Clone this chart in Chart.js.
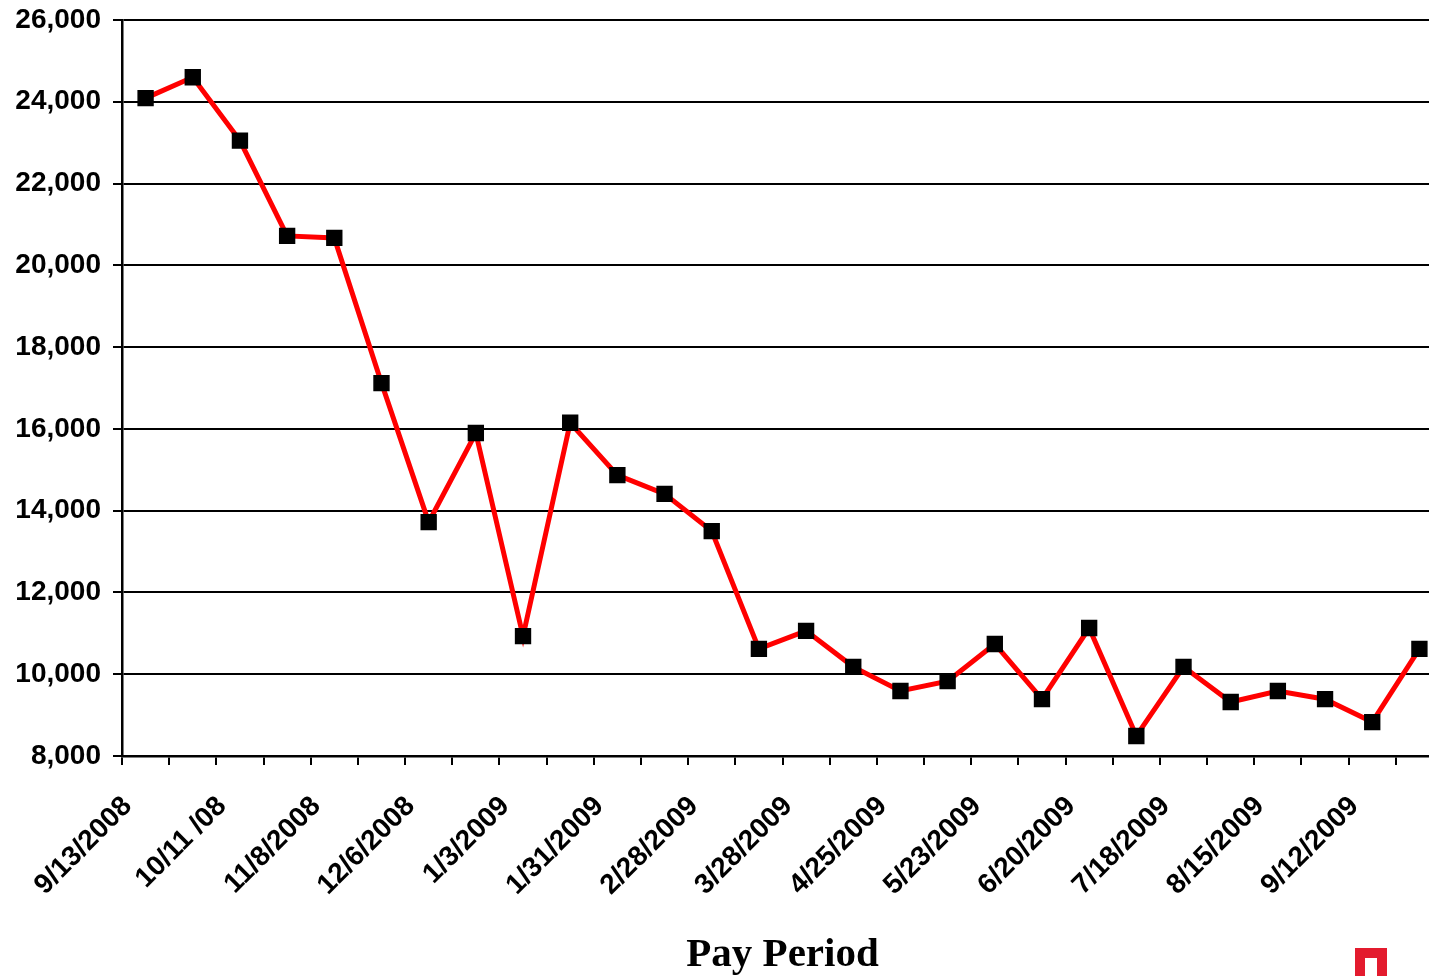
<!DOCTYPE html>
<html>
<head>
<meta charset="utf-8">
<script src="https://cdn.jsdelivr.net/npm/chart.js@4.4.1/dist/chart.umd.min.js"></script>
<style>
  html, body { margin: 0; padding: 0; background: #fff; overflow: hidden; }
  #payChart { position: absolute; left: 0; top: 0; }
</style>
</head>
<body>
<canvas id="payChart" width="1455" height="992"></canvas>
<script>
// pay periods, every 2 weeks
const periods = ['9/13/2008','9/27/2008','10/11 /08','10/25/2008','11/8/2008','11/22/2008','12/6/2008','12/20/2008',
  '1/3/2009','1/17/2009','1/31/2009','2/14/2009','2/28/2009','3/14/2009','3/28/2009','4/11/2009','4/25/2009',
  '5/9/2009','5/23/2009','6/6/2009','6/20/2009','7/4/2009','7/18/2009','8/1/2009','8/15/2009','8/29/2009',
  '9/12/2009','9/26/2009'];
const counts = [24090, 24600, 23050, 20720, 20670, 17120, 13720, 15900, 10930, 16150, 14870, 14410, 13500, 10620,
  11060, 10180, 9590, 9830, 10740, 9390, 11130, 8490, 10180, 9320, 9590, 9390, 8830, 10620];
const yMin = 8000, yMax = 26000, yStep = 2000;

// little red mark in the bottom corner
const cornerMark = {
  id: 'cornerMark',
  afterDraw(chart) {
    const c = chart.ctx;
    c.save();
    c.fillStyle = '#e31b2e';
    c.fillRect(1355, 948, 32, 44);
    c.fillStyle = '#fff';
    c.fillRect(1365, 958, 12, 34);
    c.restore();
  }
};

new Chart(document.getElementById('payChart'), {
  type: 'line',
  data: {
    labels: periods,
    datasets: [{
      data: counts,
      borderColor: '#ff0000',
      borderWidth: 5,
      pointStyle: 'rect',
      pointRadius: 10.5,
      pointBackgroundColor: '#000',
      pointBorderColor: '#000',
      pointBorderWidth: 1.5,
      tension: 0
    }]
  },
  options: {
    responsive: false,
    animation: false,
    layout: { padding: { top: 20, left: 0, right: 0, bottom: 0 } },
    plugins: { legend: { display: false }, tooltip: { enabled: false } },
    scales: {
      x: {
        offset: true,
        grid: { offset: true, drawOnChartArea: false, color: '#000', lineWidth: 2, tickLength: 9 },
        border: { color: '#000', width: 2.5 },
        ticks: {
          autoSkip: false, minRotation: 45, maxRotation: 45, padding: 25, labelOffset: -18,
          color: '#000', font: { family: 'Liberation Sans, Arial, sans-serif', size: 28, weight: 'bold' },
          callback: (v, i) => i % 2 === 0 ? periods[i] : ''
        },
        title: {
          display: true, text: 'Pay Period', color: '#000',
          font: { family: 'Liberation Serif, Times New Roman, serif', size: 41, weight: 'bold' },
          padding: { top: 0, bottom: 12 }
        },
        afterFit(scale) {
          scale.height = 992 - 756;
          scale.paddingRight = 0;
        }
      },
      y: {
        min: yMin, max: yMax,
        grid: { color: '#000', lineWidth: 2, tickLength: 9 },
        border: { color: '#000', width: 2.5 },
        ticks: {
          stepSize: yStep, padding: 12, color: '#000',
          font: { family: 'Liberation Sans, Arial, sans-serif', size: 28, weight: 'bold' },
          callback: v => v.toLocaleString('en-US')
        },
        afterFit(scale) {
          scale.width = 122;
          scale.paddingTop = 0;
          scale.paddingBottom = 0;
        }
      }
    }
  },
  plugins: [cornerMark]
});
</script>
</body>
</html>
